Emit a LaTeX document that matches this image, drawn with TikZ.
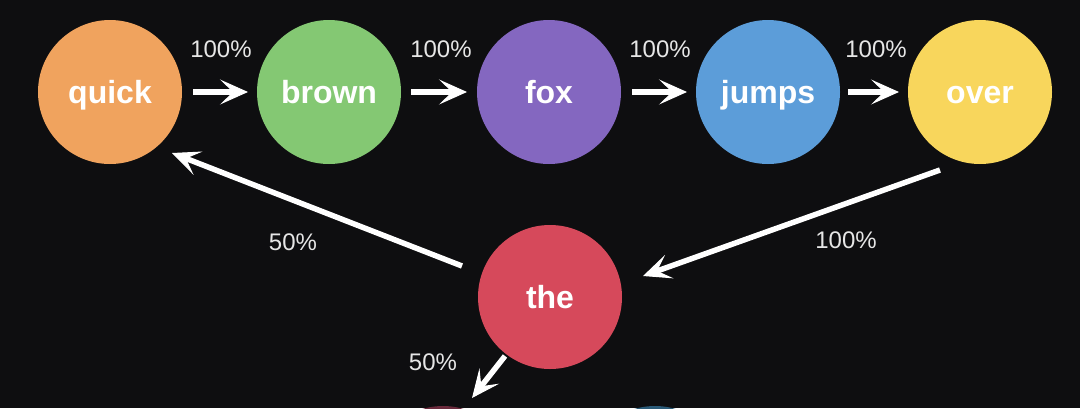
\documentclass[tikz,border=0pt]{standalone}
\usepackage{fontspec}
\setmainfont{Liberation Sans}
\usetikzlibrary{arrows.meta,calc}
\definecolor{bg}{HTML}{0E0E10}
\definecolor{cquick}{HTML}{F0A35E}
\definecolor{cbrown}{HTML}{84C873}
\definecolor{cfox}{HTML}{8467C0}
\definecolor{cjumps}{HTML}{5C9DD9}
\definecolor{cover}{HTML}{F8D65C}
\definecolor{cthe}{HTML}{D6495B}
\definecolor{cdred}{HTML}{6A2A3C}
\definecolor{cdblue}{HTML}{2A5A78}
\definecolor{lbltext}{HTML}{E6E6E6}
\tikzset{
  word/.style={circle, minimum size=144pt, inner sep=0pt, outer sep=0pt, fill=#1,
    text=white, text height=22pt, text depth=0pt,
    font=\fontsize{32}{34}\selectfont\bfseries},
  blob/.style={circle, minimum size=144pt, inner sep=0pt, outer sep=0pt, fill=#1},
  lbl/.style={text=lbltext, font=\fontsize{24}{26}\selectfont, inner sep=0pt},
  arr/.style={draw=white, line width=5.5pt,
    -{Stealth[length=28pt,width=25pt,inset=13pt,line width=1pt]}},
}
\begin{document}
\begin{tikzpicture}[x=1pt,y=-1pt]
\useasboundingbox (0,0) rectangle (1080,408);
\fill[bg] (0,0) rectangle (1080,408);
\node[word=cquick] (quick) at (110,92) {quick};
\node[word=cbrown] (brown) at (329,92) {brown};
\node[word=cfox] (fox) at (549,92) {fox};
\node[word=cjumps] (jumps) at (768,92) {jumps};
\node[word=cover] (over) at (980,92) {over};
\node[word=cthe] (the) at (550,297) {the};
\node[blob=cdred] (nextA) at (443,478) {};
\node[blob=cdblue] (nextB) at (655,478) {};

\draw[arr, shorten <=11pt, shorten >=9pt] (quick) -- (brown);
\draw[arr, shorten <=10pt, shorten >=10pt] (brown) -- (fox);
\draw[arr, shorten <=11pt, shorten >=9pt] (fox) -- (jumps);
\draw[arr, shorten <=8pt, shorten >=9pt] (jumps) -- (over);

\draw[arr] ([shift={(-40,78)}]over.center) -- ([shift={(93,-21)}]the.center);
\draw[arr] ([shift={(-88,-31)}]the.center) -- ([shift={(62,61)}]quick.center);
\draw[arr] ([shift={(-45,59)}]the.center) -- ([shift={(29,-80)}]nextA.center);

\node[lbl] (l1) at (221,49) {100\%};
\node[lbl] (l2) at (441,49) {100\%};
\node[lbl] (l3) at (660,49) {100\%};
\node[lbl] (l4) at (876,49) {100\%};
\node[lbl] (l5) at (293,242) {50\%};
\node[lbl] (l6) at (846,240) {100\%};
\node[lbl] (l7) at (433,362) {50\%};
\end{tikzpicture}
\end{document}
